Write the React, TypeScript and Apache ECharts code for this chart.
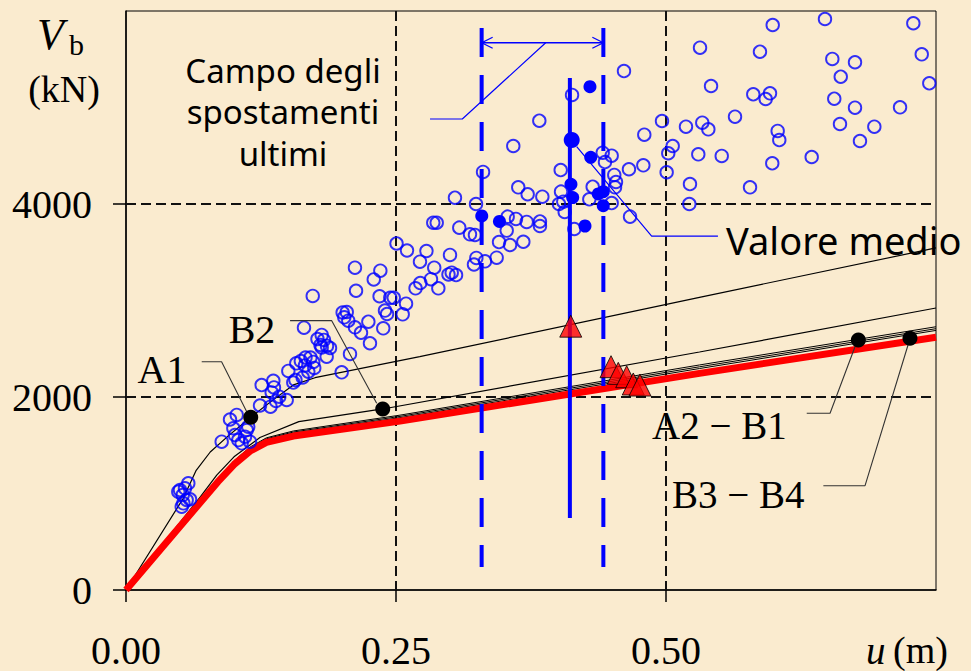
import React, { useEffect, useRef } from "react";
import * as echarts from "echarts";

// ---------- data ----------
const xTicks = [0, 0.25, 0.5];
const yTicks = [0, 2000, 4000];
const xGridValues = [0.25, 0.5];
const yGridValues = [2000, 4000];
const X_MAX = 0.75;
const Y_MAX = 6000;

const curveA: [number, number][] = [
  [0, 0], [0.053, 950], [0.065, 1240], [0.078, 1430], [0.095, 1600], [0.1155, 1790],
  [0.135, 1960], [0.155, 2125], [0.175, 2200], [0.272, 2418], [0.531, 3033], [0.75, 3545],
];
const curveB: [number, number][] = [
  [0, 0], [0.069, 967], [0.084, 1190], [0.1, 1380], [0.124, 1580], [0.16, 1745],
  [0.2377, 1876], [0.531, 2466], [0.75, 2922],
];
const curveG1: [number, number][] = [
  [0, 0], [0.085, 1135], [0.1, 1340], [0.115, 1482], [0.13, 1577], [0.155, 1648],
  [0.2537, 1812], [0.531, 2332], [0.75, 2728],
];
const curveG2: [number, number][] = [
  [0, 0], [0.085, 1130], [0.1, 1330], [0.115, 1473], [0.13, 1567], [0.155, 1637],
  [0.2537, 1799], [0.531, 2313], [0.75, 2708],
];
const curveG3: [number, number][] = [
  [0, 0], [0.085, 1126], [0.1, 1322], [0.115, 1464], [0.13, 1558], [0.155, 1626],
  [0.2537, 1786], [0.531, 2295], [0.75, 2690],
];
const curveRed: [number, number][] = [
  [0, 0], [0.085, 1120], [0.1, 1300], [0.115, 1440], [0.13, 1530], [0.155, 1595],
  [0.2537, 1750], [0.531, 2245], [0.75, 2620],
];

const openCircles: [number, number][] = [
  [0.5988, 5855], [0.6472, 5917], [0.729, 5873], [0.5315, 5620], [0.587, 5578], [0.654, 5503], [0.675, 5469], [0.7368, 5551], [0.6618, 5319], [0.7438, 5251],
  [0.5417, 5223], [0.5808, 5137], [0.5963, 5147], [0.5923, 5088], [0.6558, 5091], [0.675, 4998], [0.7167, 5002], [0.5639, 4905], [0.5185, 4801], [0.5336, 4843],
  [0.5392, 4774], [0.6034, 4757], [0.6049, 4663], [0.6611, 4829], [0.6929, 4801], [0.6796, 4653], [0.5062, 4601], [0.5021, 4526], [0.5299, 4515], [0.5516, 4498],
  [0.5984, 4422], [0.6349, 4487], [0.5006, 4329], [0.5222, 4207], [0.5778, 4173], [0.5216, 4000],
  [0.4611, 5378], [0.413, 5130], [0.3827, 4863], [0.3586, 4601], [0.4963, 4860], [0.4799, 4718], [0.4414, 4532], [0.4497, 4501], [0.4435, 4435], [0.4657, 4360],
  [0.479, 4401], [0.4521, 4301], [0.4537, 4228], [0.4528, 4173], [0.4025, 4352], [0.4321, 4179], [0.3306, 4332], [0.3632, 4173], [0.3719, 4101], [0.3855, 4076],
  [0.4028, 4128], [0.3046, 4065], [0.429, 4049], [0.4009, 4000], [0.4049, 4024], [0.4062, 3917], [0.4497, 4010], [0.3241, 4000], [0.4667, 3869], [0.2845, 3806],
  [0.2877, 3806], [0.3086, 3755], [0.3534, 3869], [0.3611, 3845], [0.371, 3814], [0.3833, 3819], [0.3833, 3772], [0.3525, 3725], [0.3185, 3686], [0.3231, 3679],
  [0.4151, 3741], [0.3454, 3606], [0.3556, 3575], [0.3679, 3609], [0.2602, 3518], [0.2782, 3513], [0.3, 3472], [0.2722, 3402], [0.2854, 3340], [0.3244, 3441],
  [0.3222, 3373], [0.3324, 3406], [0.3432, 3444], [0.2986, 3270], [0.3016, 3288], [0.3056, 3264], [0.2824, 3221], [0.2725, 3181], [0.2681, 3126], [0.2892, 3126],
  [0.2593, 2967], [0.2562, 2857], [0.2505, 3591], [0.212, 3340], [0.2355, 3309], [0.2294, 3218], [0.213, 3101], [0.2348, 3044], [0.2447, 3028], [0.2479, 3028],
  [0.2398, 2896], [0.2417, 2860], [0.2006, 2876], [0.2044, 2881], [0.2021, 2826], [0.2058, 2791], [0.2244, 2780], [0.212, 2722], [0.2176, 2666], [0.2382, 2712],
  [0.2259, 2557], [0.1729, 3047], [0.1648, 2718], [0.2074, 2446], [0.1997, 2256],
  [0.1812, 2643], [0.1773, 2601], [0.1833, 2591], [0.1801, 2539], [0.1861, 2529], [0.1812, 2513], [0.1889, 2508], [0.1858, 2418], [0.1708, 2409], [0.1662, 2409],
  [0.1619, 2373], [0.1734, 2363], [0.1577, 2349], [0.1657, 2327], [0.1743, 2301], [0.1688, 2262], [0.1503, 2270], [0.1636, 2202], [0.1549, 2150], [0.1569, 2176],
  [0.1364, 2168], [0.1256, 2124], [0.137, 2099], [0.1349, 2047], [0.1419, 2003], [0.1488, 1969], [0.1389, 1959], [0.1338, 1900], [0.1241, 1912],
  [0.1025, 1814], [0.0963, 1767], [0.1132, 1692], [0.0994, 1676], [0.1118, 1658], [0.1009, 1606], [0.0886, 1537], [0.104, 1554], [0.1071, 1520], [0.1148, 1537], [0.1102, 1589],
  [0.0577, 1106], [0.05, 1036], [0.0546, 1054], [0.0525, 984], [0.0562, 933], [0.0516, 863], [0.0593, 940], [0.0484, 1019], [0.0531, 898],
];

const filledBlue: [number, number][] = [
  [0.4296, 5216], [0.4303, 4484], [0.412, 4204], [0.4136, 4067], [0.4373, 4104],
  [0.4419, 4127], [0.4419, 3982], [0.3294, 3876], [0.3458, 3819], [0.425, 3772],
];
const meanPoint: [number, number][] = [[0.4127, 4663]];

const triangles: [number, number][] = [
  [0.4118, 2734], [0.4491, 2314], [0.4558, 2245], [0.4636, 2210], [0.4697, 2135], [0.4759, 2124],
];

const blackDots: [number, number][] = [
  [0.1155, 1790], [0.2377, 1876], [0.6781, 2591], [0.7259, 2608],
];

const rangeLeft: [number, number][] = [[0.3293, 5824], [0.3293, 238]];
const rangeRight: [number, number][] = [[0.442, 5824], [0.442, 238]];
const meanLine: [number, number][] = [[0.411, 5306], [0.411, 746]];
const arrowShaft: [number, number][] = [[0.3293, 5671], [0.442, 5671]];
const arrowHeadL: [number, number][] = [[0.3395, 5728], [0.3293, 5671], [0.3395, 5614]];
const arrowHeadR: [number, number][] = [[0.4318, 5728], [0.442, 5671], [0.4318, 5614]];
const leaderCampo: [number, number][] = [[0.2815, 4881], [0.3114, 4881], [0.3886, 5671]];
const leaderMedio: [number, number][] = [[0.4173, 4594], [0.4867, 3668], [0.5481, 3668]];

const leaderA1: [number, number][] = [[0.0701, 2366], [0.0885, 2366], [0.1118, 1848]];
const leaderB2: [number, number][] = [[0.1519, 2791], [0.1905, 2791], [0.2321, 1935]];
const leaderA2B1: [number, number][] = [[0.6303, 1831], [0.6519, 1831], [0.675, 2521]];
const leaderB3B4: [number, number][] = [[0.6457, 1081], [0.6843, 1081], [0.7241, 2539]];

// ---------- styles ----------
const SERIF = '"Liberation Serif", "Times New Roman", serif';
const HAND = '"Comic Sans MS", "Noto Sans", sans-serif';
const BLUE = "#0000FF";
const GRID_DASH = [10, 5];

function line(data: [number, number][], color: string, width: number, z: number, type: any = "solid") {
  return {
    type: "line",
    data,
    symbol: "none",
    silent: true,
    z,
    lineStyle: { color, width, type, cap: "butt" },
    emphasis: { disabled: true },
  };
}

export default function App() {
  const ref = useRef<HTMLDivElement>(null);
  useEffect(() => {
    document.body.style.margin = "0";
    const chart = echarts.init(ref.current!, null, { renderer: "svg" });
    const gridSeries = [
      ...xGridValues.map((v) => line([[v, Y_MAX], [v, 0]], "#111", 2, 1, GRID_DASH)),
      ...yGridValues.map((v) => line([[0, v], [X_MAX, v]], "#111", 2, 1, GRID_DASH)),
    ];
    const option: any = {
      animation: false,
      backgroundColor: "#FAEBCF",
      grid: {
        left: 126, right: 35, top: 11, bottom: 81,
        show: true, borderColor: "#000", borderWidth: 1,
        containLabel: false, outerBoundsMode: "none",
      },
      xAxis: {
        type: "value", min: 0, max: X_MAX, interval: 0.25,
        axisLine: { show: true, onZero: false, lineStyle: { color: "#000", width: 1.5 } },
        axisTick: { show: true, inside: false, length: 12, customValues: xTicks, lineStyle: { color: "#000", width: 1.5 } },
        axisLabel: {
          customValues: xTicks,
          formatter: (v: number) => v.toFixed(2),
          fontFamily: SERIF, fontSize: 40, color: "#000", margin: 40,
        },
        splitLine: { show: false },
      },
      yAxis: {
        type: "value", min: 0, max: Y_MAX, interval: 2000,
        axisLine: { show: true, onZero: false, lineStyle: { color: "#000", width: 1.5 } },
        axisTick: { show: true, inside: false, length: 13, customValues: yTicks, lineStyle: { color: "#000", width: 1.5 } },
        axisLabel: {
          customValues: yTicks,
          formatter: (v: number) => String(v),
          fontFamily: SERIF, fontSize: 40, color: "#000", margin: 34,
        },
        splitLine: { show: false },
      },
      series: [
        ...gridSeries,
        line(curveA, "#000", 1.2, 2),
        line(curveB, "#000", 1.2, 2),
        line(curveG1, "#000", 1, 2),
        line(curveG2, "#000", 1, 2),
        line(curveG3, "#000", 1, 2),
        line(curveRed, "#FF0000", 7, 3),
        {
          type: "scatter", data: openCircles, symbol: "circle", symbolSize: 12.5, silent: true, z: 4,
          itemStyle: { color: "rgba(0,0,0,0)", borderColor: BLUE, borderWidth: 1.9 },
          emphasis: { disabled: true },
        },
        line(rangeLeft, BLUE, 4, 5, [29, 18]),
        line(rangeRight, BLUE, 4, 5, [29, 18]),
        line(meanLine, BLUE, 4, 5),
        line(arrowShaft, BLUE, 1.3, 5),
        line(arrowHeadL, BLUE, 1.3, 5),
        line(arrowHeadR, BLUE, 1.3, 5),
        line(leaderCampo, BLUE, 1.2, 5),
        line(leaderMedio, BLUE, 1.2, 5),
        line(leaderA1, "#333", 1.1, 5),
        line(leaderB2, "#333", 1.1, 5),
        line(leaderA2B1, "#333", 1.1, 5),
        line(leaderB3B4, "#333", 1.1, 5),
        {
          type: "scatter", data: triangles, symbol: "triangle", symbolSize: 22, silent: true, z: 6,
          itemStyle: { color: "#FF0000", borderColor: "#000", borderWidth: 1 },
          emphasis: { disabled: true },
        },
        {
          type: "scatter", data: blackDots, symbol: "circle", symbolSize: 15, silent: true, z: 7,
          itemStyle: { color: "#000", opacity: 1 }, emphasis: { disabled: true },
        },
        {
          type: "scatter", data: filledBlue, symbol: "circle", symbolSize: 13, silent: true, z: 7,
          itemStyle: { color: BLUE, opacity: 1 }, emphasis: { disabled: true },
        },
        {
          type: "scatter", data: meanPoint, symbol: "circle", symbolSize: 16, silent: true, z: 7,
          itemStyle: { color: BLUE, opacity: 1 }, emphasis: { disabled: true },
        },
      ],
      graphic: [
        { type: "text", x: 37, y: 34, z: 100, style: { text: "V", font: `italic 44px ${SERIF}`, fill: "#000", textAlign: "left", textVerticalAlign: "middle" } },
        { type: "text", x: 69, y: 44, z: 100, style: { text: "b", font: `30px ${SERIF}`, fill: "#000", textAlign: "left", textVerticalAlign: "middle" } },
        { type: "text", x: 64, y: 89, z: 100, style: { text: "(kN)", font: `38px ${SERIF}`, fill: "#000", textAlign: "center", textVerticalAlign: "middle" } },
        { type: "text", x: 866, y: 650, z: 100, style: { text: "u", font: `italic 39px ${SERIF}`, fill: "#000", textAlign: "left", textVerticalAlign: "middle" } },
        { type: "text", x: 893, y: 650, z: 100, style: { text: "(m)", font: `38px ${SERIF}`, fill: "#000", textAlign: "left", textVerticalAlign: "middle" } },
        { type: "text", x: 283, y: 70, z: 100, style: { text: "Campo degli", font: `33px ${HAND}`, fill: "#000", textAlign: "center", textVerticalAlign: "middle" } },
        { type: "text", x: 283, y: 111, z: 100, style: { text: "spostamenti", font: `33px ${HAND}`, fill: "#000", textAlign: "center", textVerticalAlign: "middle" } },
        { type: "text", x: 283, y: 153, z: 100, style: { text: "ultimi", font: `33px ${HAND}`, fill: "#000", textAlign: "center", textVerticalAlign: "middle" } },
        { type: "text", x: 726, y: 240, z: 100, style: { text: "Valore medio", font: `38px ${HAND}`, fill: "#000", textAlign: "left", textVerticalAlign: "middle" } },
        { type: "text", x: 162, y: 369, z: 100, style: { text: "A1", font: `40px ${SERIF}`, fill: "#000", textAlign: "center", textVerticalAlign: "middle" } },
        { type: "text", x: 252, y: 329, z: 100, style: { text: "B2", font: `40px ${SERIF}`, fill: "#000", textAlign: "center", textVerticalAlign: "middle" } },
        { type: "text", x: 652, y: 425, z: 100, style: { text: "A2 \u2212 B1", font: `39px ${SERIF}`, fill: "#000", textAlign: "left", textVerticalAlign: "middle" } },
        { type: "text", x: 672, y: 494, z: 100, style: { text: "B3 \u2212 B4", font: `39px ${SERIF}`, fill: "#000", textAlign: "left", textVerticalAlign: "middle" } },
      ],
    };
    chart.setOption(option);
    return () => chart.dispose();
  }, []);
  return <div ref={ref} style={{ width: 971, height: 671 }} />;
}
